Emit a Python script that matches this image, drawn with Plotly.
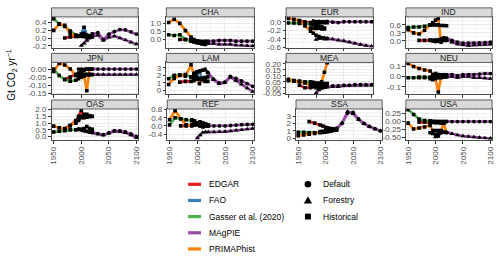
import plotly.graph_objects as go

# ------------------------------------------------------------------ data
HIST_YEARS = [1950, 1960, 1970, 1980, 1990, 1995, 2000, 2005, 2010, 2015, 2020]
EDGAR_YEARS = [1970, 1980, 1990, 1995, 2000, 2005, 2010, 2015]
FAO_YEARS = [1990, 1995, 2000, 2005, 2010, 2015]
MAGPIE_YEARS = [1995, 2000, 2005, 2010, 2015, 2020, 2030, 2040, 2050, 2060, 2070, 2080, 2090, 2100]

REGIONS = ["CAZ", "CHA", "EUR", "IND", "JPN", "LAM", "MEA", "NEU", "OAS", "REF", "SSA", "USA"]
SOURCES = ["EDGAR", "FAO", "Gasser et al. (2020)", "MAgPIE", "PRIMAPhist"]
SCENARIOS = ["Default", "Forestry", "Historical"]

CAZ_EDGAR = [0.00, 0.03, 0.04, 0.05, 0.05, 0.04, 0.03, 0.03]
CAZ_FAO = [0.05, 0.05, 0.10, 0.28, 0.08, 0.05]
CAZ_GASSER = [0.50, 0.37, 0.30, 0.18, 0.08, 0.06, 0.05, 0.05, 0.04, 0.04, 0.03]
CAZ_PRIMAP = [0.20, 0.36, 0.33, 0.12, 0.05, 0.04, 0.06, 0.12, 0.02, 0.05, 0.10]
CAZ_DEFAULT = [0.05, 0.07, 0.04, 0.00, 0.05, 0.10, 0.14, -0.04, 0.10, 0.17, 0.22, 0.21, 0.16, 0.10]
CAZ_FORESTRY = [None, -0.20, -0.14, -0.06, 0.00, 0.05, 0.07, -0.06, 0.02, 0.05, 0.00, -0.05, -0.11, -0.16]

CHA_EDGAR = [0.00, 0.00, 0.00, -0.05, -0.10, -0.12, -0.15, -0.15]
CHA_FAO = [-0.05, -0.10, -0.15, -0.20, -0.25, -0.30]
CHA_GASSER = [0.30, 0.25, 0.30, 0.00, -0.10, -0.15, -0.20, -0.20, -0.22, -0.22, -0.22]
CHA_PRIMAP = [1.05, 1.25, 1.00, 0.55, 0.15, 0.00, -0.10, -0.15, -0.20, -0.20, -0.15]
CHA_DEFAULT = [-0.05, -0.10, -0.10, -0.12, -0.10, -0.10, -0.10, -0.05, -0.05, -0.05, -0.10, -0.10, -0.10, -0.10]
CHA_FORESTRY = [None, -0.20, -0.25, -0.30, -0.30, -0.25, -0.25, -0.30, -0.30, -0.30, -0.35, -0.35, -0.38, -0.40]

EUR_EDGAR = [0.02, 0.00, -0.02, -0.05, -0.08, -0.10, -0.12, -0.15]
EUR_FAO = [-0.15, -0.15, -0.16, -0.15, -0.17, -0.17]
EUR_GASSER = [-0.03, -0.03, -0.04, -0.05, -0.05, -0.05, -0.03, -0.02, -0.02, -0.02, -0.02]
EUR_PRIMAP = [0.08, 0.06, 0.03, -0.10, -0.22, -0.27, -0.32, -0.35, -0.38, -0.40, -0.40]
EUR_DEFAULT = [0.02, 0.00, 0.01, 0.00, 0.00, 0.01, -0.01, -0.02, 0.00, 0.00, 0.00, 0.00, 0.00, 0.00]
EUR_FORESTRY = [None, -0.42, -0.40, -0.38, -0.38, -0.39, -0.41, -0.43, -0.45, -0.48, -0.51, -0.54, -0.56, -0.58]

IND_EDGAR = [0.02, 0.02, 0.03, 0.02, 0.02, 0.00, 0.00, 0.02]
IND_FAO = [0.02, 0.00, -0.02, 0.00, 0.05, 0.08]
IND_GASSER = [0.50, 0.52, 0.52, 0.55, 0.60, 0.60, 0.60, 0.60, 0.58, 0.58, 0.57]
IND_PRIMAP = [0.42, 0.30, 0.26, 0.40, 0.60, 0.68, 0.78, 0.84, -0.05, 0.03, 0.02]
IND_DEFAULT = [0.02, 0.03, 0.05, 0.08, 0.12, 0.10, 0.02, -0.05, -0.08, -0.08, -0.08, -0.07, -0.06, -0.05]
IND_FORESTRY = [None, 0.00, 0.02, 0.05, 0.08, 0.05, -0.05, -0.12, -0.15, -0.17, -0.16, -0.15, -0.14, -0.13]

JPN_EDGAR = [-0.065, -0.05, -0.035, -0.025, -0.015, -0.01, 0.00, 0.00]
JPN_FAO = [-0.035, -0.035, -0.035, -0.035, -0.035, -0.035]
JPN_GASSER = [0.00, -0.04, -0.065, -0.075, -0.07, -0.06, -0.05, -0.04, -0.035, -0.035, -0.035]
JPN_PRIMAP = [-0.015, 0.035, 0.025, 0.00, -0.04, -0.045, -0.045, -0.045, -0.135, 0.00, 0.00]
JPN_DEFAULT = [0.00, 0.00, -0.002, 0.00, 0.00, 0.00, 0.00, 0.00, 0.00, 0.00, 0.00, 0.00, 0.00, 0.00]
JPN_FORESTRY = [None, -0.035, -0.035, -0.035, -0.035, -0.035, -0.035, -0.035, -0.035, -0.035, -0.035, -0.035, -0.035, -0.035]

LAM_EDGAR = [1.10, 1.20, 1.20, 1.30, 1.50, 1.60, 1.40, 1.20]
LAM_FAO = [1.80, 2.00, 2.30, 2.50, 1.50, 1.40]
LAM_GASSER = [1.55, 2.00, 2.05, 2.10, 1.80, 1.70, 1.60, 1.50, 1.60, 1.70, 1.80]
LAM_PRIMAP = [0.80, 1.60, 2.00, 1.90, 3.40, 2.00, 1.80, 0.90, 1.50, 1.30, 1.20]
LAM_DEFAULT = [2.30, 2.50, 2.60, 2.70, 2.80, 2.40, 1.50, 1.00, 1.10, 1.85, 1.60, 1.25, 0.90, 0.55]
LAM_FORESTRY = [None, 2.40, 2.50, 2.60, 2.70, 2.30, 1.40, 0.90, 1.00, 1.75, 1.30, 0.80, 0.30, -0.15]

MEA_EDGAR = [0.02, 0.00, 0.00, 0.01, 0.01, 0.02, 0.02, 0.02]
MEA_FAO = [0.03, 0.03, 0.02, 0.03, 0.03, 0.02]
MEA_GASSER = [0.06, 0.055, 0.055, 0.05, 0.05, 0.045, 0.04, 0.04, 0.035, 0.035, 0.035]
MEA_PRIMAP = [0.07, 0.06, 0.05, 0.04, 0.02, 0.01, 0.00, 0.00, 0.05, 0.13, 0.21]
MEA_DEFAULT = [0.01, 0.00, 0.00, 0.00, 0.005, 0.01, 0.015, 0.015, 0.02, 0.02, 0.025, 0.025, 0.025, 0.025]
MEA_FORESTRY = [None, -0.045, -0.02, -0.005, 0.00, 0.005, 0.01, 0.01, 0.015, 0.02, 0.02, 0.02, 0.02, 0.02]

NEU_EDGAR = [-0.005, -0.005, -0.005, -0.01, -0.01, -0.01, 0.00, 0.00]
NEU_FAO = [-0.02, -0.03, 0.03, 0.02, -0.01, 0.00]
NEU_GASSER = [-0.01, -0.01, -0.01, -0.01, -0.01, -0.01, -0.005, 0.00, 0.00, 0.00, 0.00]
NEU_PRIMAP = [0.13, 0.10, 0.08, 0.065, 0.055, 0.02, -0.02, -0.15, 0.00, 0.01, 0.00]
NEU_DEFAULT = [0.00, 0.01, 0.01, 0.02, 0.02, 0.02, 0.02, 0.01, 0.02, 0.02, 0.02, 0.025, 0.03, 0.03]
NEU_FORESTRY = [None, -0.01, 0.00, 0.00, 0.00, 0.00, 0.00, -0.01, 0.00, 0.00, -0.01, -0.01, -0.015, -0.02]

OAS_EDGAR = [0.60, 0.85, 1.20, 1.50, 1.95, 1.50, 1.45, 1.50]
OAS_FAO = [1.00, 1.20, 1.40, 1.65, 1.50, 1.50]
OAS_GASSER = [0.35, 0.40, 0.45, 0.50, 0.50, 0.55, 0.55, 0.60, 0.75, 0.60, 0.55]
OAS_PRIMAP = [0.78, 0.65, 0.55, 0.80, 1.10, 1.30, 1.50, 1.40, 1.65, 1.55, 1.50]
OAS_DEFAULT = [0.55, 0.50, 0.45, 0.40, 0.35, 0.30, 0.22, 0.15, 0.28, 0.45, 0.42, 0.35, 0.20, 0.02]
OAS_FORESTRY = [None, 0.48, 0.42, 0.38, 0.32, 0.28, 0.20, 0.12, 0.25, 0.40, 0.38, 0.28, 0.12, -0.08]

REF_EDGAR = [0.00, 0.00, 0.05, 0.10, 0.15, 0.20, 0.15, 0.10]
REF_FAO = [0.30, 0.25, 0.15, 0.10, 0.05, 0.05]
REF_GASSER = [0.05, 0.40, 0.35, 0.30, 0.25, 0.15, 0.10, 0.05, 0.05, 0.05, 0.05]
REF_PRIMAP = [0.30, 0.75, 0.35, 0.05, 0.00, 0.05, 0.10, 0.00, -0.05, 0.00, 0.00]
REF_DEFAULT = [0.05, 0.05, 0.00, 0.00, 0.00, 0.00, 0.00, 0.00, 0.00, 0.02, 0.04, 0.06, 0.07, 0.08]
REF_FORESTRY = [None, -0.60, -0.45, -0.32, -0.30, -0.30, -0.30, -0.29, -0.28, -0.25, -0.22, -0.19, -0.16, -0.13]

SSA_EDGAR = [2.25, 2.05, 1.80, 1.65, 1.50, 1.40, 1.30, 1.25]
SSA_FAO = [0.90, 0.95, 1.00, 1.05, 1.10, 1.15]
SSA_GASSER = [0.80, 0.80, 0.75, 0.75, 0.80, 0.85, 0.90, 0.95, 1.00, 1.05, 1.10]
SSA_PRIMAP = [0.35, 0.45, 0.55, 0.65, 0.75, 0.85, 0.95, 1.00, 1.10, 1.20, 1.30]
SSA_DEFAULT = [0.80, 0.85, 0.90, 1.00, 1.10, 1.30, 2.00, 3.40, 3.50, 2.60, 2.00, 1.60, 1.30, 1.00]
SSA_FORESTRY = [None, 0.85, 0.90, 1.00, 1.10, 1.30, 2.10, 3.60, 3.30, 2.50, 1.95, 1.55, 1.25, 1.00]

USA_EDGAR = [-0.02, -0.02, -0.03, -0.03, -0.04, -0.04, -0.05, -0.05]
USA_FAO = [-0.35, -0.37, -0.40, -0.45, -0.35, -0.33]
USA_GASSER = [0.37, 0.22, 0.08, 0.03, 0.02, 0.01, 0.00, 0.00, 0.00, 0.00, 0.00]
USA_PRIMAP = [-0.05, -0.23, -0.20, -0.17, -0.12, -0.28, -0.28, -0.28, -0.28, -0.05, -0.35]
USA_DEFAULT = [0.00, 0.00, 0.00, 0.00, 0.00, 0.00, 0.00, 0.00, 0.00, 0.00, 0.00, 0.00, 0.00, 0.00]
USA_FORESTRY = [None, -0.48, -0.38, -0.34, -0.32, -0.33, -0.38, -0.42, -0.45, -0.47, -0.48, -0.50, -0.51, -0.52]

Y_TICKS = {
    "CAZ": [-0.2, 0.0, 0.2, 0.4], "CHA": [0.0, 0.5, 1.0], "EUR": [-0.6, -0.4, -0.2, 0.0],
    "IND": [0.0, 0.3, 0.6], "JPN": [-0.15, -0.10, -0.05, 0.00], "LAM": [0, 1, 2, 3],
    "MEA": [-0.05, 0.00, 0.05, 0.10, 0.15, 0.20], "NEU": [-0.1, 0.0, 0.1],
    "OAS": [0.0, 0.5, 1.0, 1.5, 2.0], "REF": [-0.4, 0.0, 0.4, 0.8], "SSA": [0, 1, 2, 3],
    "USA": [-0.50, -0.25, 0.00, 0.25],
}
X_TICKS = [1950, 2000, 2050, 2100]

# ------------------------------------------------------------------ styling
COLORS = ["#E41A1C", "#377EB8", "#4DAF4A", "#984EA3", "#FF7F00"]
SYMBOLS = {"Default": "circle", "Forestry": "triangle-up", "Historical": "square"}
MSIZE = {"Default": 3.8, "Forestry": 4.6, "Historical": 3.6}
DECIMALS = {"CAZ": 1, "CHA": 1, "EUR": 1, "IND": 1, "JPN": 2, "LAM": 0, "MEA": 2,
            "NEU": 1, "OAS": 1, "REF": 1, "SSA": 0, "USA": 2}
Y_RANGE = {"CAZ": [-0.25, 0.55], "CHA": [-0.5, 1.4], "EUR": [-0.61, 0.115],
           "IND": [-0.25, 0.9], "JPN": [-0.158, 0.041], "LAM": [-0.52, 3.7],
           "MEA": [-0.057, 0.213], "NEU": [-0.174, 0.139], "OAS": [-0.26, 2.05],
           "REF": [-0.70, 0.83], "SSA": [-0.25, 3.95], "USA": [-0.58, 0.39]}
X_RANGE = [1946, 2103]

ROW_Y = [(13.3, 45.0), (60.3, 93.3), (108.3, 140.5)]
STRIP_H = 9.3
COL_X = [[(50, 137.5), (166, 255), (287, 375), (408, 495)],
         [(50, 137.5), (166, 255), (287, 375), (408, 495)],
         [(50, 137.5), (167, 255), (297, 384), (408, 495)]]

W, H = 500, 261
FONT = "Liberation Sans, Arial, Helvetica, sans-serif"


def px(x):
    return x / W


def py(y):
    return 1 - y / H


g = globals()
DATA = {}
for reg in REGIONS:
    DATA[reg] = [
        (0, "Historical", EDGAR_YEARS, g[reg + "_EDGAR"]),
        (1, "Historical", FAO_YEARS, g[reg + "_FAO"]),
        (2, "Historical", HIST_YEARS, g[reg + "_GASSER"]),
        (3, "Default", MAGPIE_YEARS, g[reg + "_DEFAULT"]),
        (3, "Forestry", MAGPIE_YEARS, g[reg + "_FORESTRY"]),
        (4, "Historical", HIST_YEARS, g[reg + "_PRIMAP"]),
    ]


def fmt(v, d):
    return f"{v:.{d}f}"


fig = go.Figure()
layout = {}
shapes = []
annotations = []

for i, reg in enumerate(REGIONS):
    r, c = divmod(i, 4)
    x0, x1 = COL_X[r][c]
    y0, y1 = ROW_Y[r]
    xa = "x" if i == 0 else f"x{i+1}"
    ya = "y" if i == 0 else f"y{i+1}"
    xkey = "xaxis" if i == 0 else f"xaxis{i+1}"
    ykey = "yaxis" if i == 0 else f"yaxis{i+1}"

    for ci, scen, yrs, vals in DATA[reg]:
        fig.add_trace(go.Scatter(x=yrs, y=vals, mode="lines", xaxis=xa, yaxis=ya,
                                 line=dict(color=COLORS[ci], width=2.6),
                                 showlegend=False, hoverinfo="skip"))
    for ci, scen, yrs, vals in DATA[reg]:
        fig.add_trace(go.Scatter(x=yrs, y=vals, mode="markers", xaxis=xa, yaxis=ya,
                                 marker=dict(color="black", size=MSIZE[scen],
                                             symbol=SYMBOLS[scen], line=dict(width=0)),
                                 showlegend=False, hoverinfo="skip"))

    ticks = Y_TICKS[reg]
    step = ticks[1] - ticks[0]
    minor = [t + step / 2 for t in [ticks[0] - step] + ticks]
    lo, hi = Y_RANGE[reg]
    minor = [m for m in minor if lo < m < hi]

    layout[xkey] = dict(
        domain=[px(x0), px(x1)], anchor=ya, range=X_RANGE,
        tickmode="array", tickvals=X_TICKS,
        ticktext=[str(t) for t in X_TICKS],
        showticklabels=(r == 2), tickangle=-90,
        tickfont=dict(size=8, color="#4D4D4D", family=FONT),
        ticks="outside", ticklen=2.5, tickwidth=0.7, tickcolor="#333333",
        showgrid=True, gridcolor="#EBEBEB", gridwidth=0.9,
        minor=dict(tickmode="array", tickvals=[1975, 2025, 2075], showgrid=True,
                   gridcolor="#F2F2F2", gridwidth=0.5, ticks=""),
        zeroline=False, showline=True, mirror=True, linecolor="#4D4D4D", linewidth=0.9,
        fixedrange=True,
    )
    layout[ykey] = dict(
        domain=[py(y1), py(y0)], anchor=xa, range=Y_RANGE[reg],
        tickmode="array", tickvals=ticks,
        ticktext=[fmt(t, DECIMALS[reg]) for t in ticks],
        tickfont=dict(size=8, color="#4D4D4D", family=FONT),
        ticks="outside", ticklen=2.5, tickwidth=0.7, tickcolor="#333333",
        showgrid=True, gridcolor="#EBEBEB", gridwidth=0.9,
        minor=dict(tickmode="array", tickvals=minor, showgrid=True,
                   gridcolor="#F2F2F2", gridwidth=0.5, ticks=""),
        zeroline=False, showline=True, mirror=True, linecolor="#4D4D4D", linewidth=0.9,
        fixedrange=True,
    )
    # strip
    shapes.append(dict(type="rect", xref="paper", yref="paper",
                       x0=px(x0), x1=px(x1), y0=py(y0), y1=py(y0 - STRIP_H),
                       fillcolor="#D9D9D9", line=dict(color="#4D4D4D", width=0.9)))
    annotations.append(dict(xref="paper", yref="paper", x=px((x0 + x1) / 2),
                            y=py(y0 - STRIP_H / 2), text=reg, showarrow=False,
                            xanchor="center", yanchor="middle",
                            font=dict(size=8.5, color="#1A1A1A", family=FONT)))

# y-axis title
annotations.append(dict(xref="paper", yref="paper", x=px(10), y=py(73),
                        text="Gt CO<sub>2</sub> yr<sup>−1</sup>", showarrow=False,
                        textangle=-90, xanchor="center", yanchor="middle",
                        font=dict(size=10, color="black", family=FONT)))

# legend: sources
LEG_ROWS = [186, 202.7, 219.3, 236, 252.7]
for k, name in enumerate(SOURCES):
    yy = LEG_ROWS[k]
    shapes.append(dict(type="line", xref="paper", yref="paper",
                       x0=px(188), x1=px(201), y0=py(yy), y1=py(yy),
                       line=dict(color=COLORS[k], width=3.2)))
    annotations.append(dict(xref="paper", yref="paper", x=px(207.5), y=py(yy),
                            text=name, showarrow=False, xanchor="left", yanchor="middle",
                            font=dict(size=8.5, color="black", family=FONT)))

# legend: scenarios
MX = 309
for k, name in enumerate(SCENARIOS):
    yy = LEG_ROWS[k]
    if name == "Default":
        rr = 3.4
        shapes.append(dict(type="circle", xref="paper", yref="paper",
                           x0=px(MX - rr), x1=px(MX + rr), y0=py(yy + rr), y1=py(yy - rr),
                           fillcolor="black", line=dict(width=0)))
    elif name == "Forestry":
        path = (f"M {px(MX)},{py(yy - 4.2)} L {px(MX - 4.2)},{py(yy + 3)} "
                f"L {px(MX + 4.2)},{py(yy + 3)} Z")
        shapes.append(dict(type="path", xref="paper", yref="paper", path=path,
                           fillcolor="black", line=dict(width=0)))
    else:
        s = 3.0
        shapes.append(dict(type="rect", xref="paper", yref="paper",
                           x0=px(MX - s), x1=px(MX + s), y0=py(yy + s), y1=py(yy - s),
                           fillcolor="black", line=dict(width=0)))
    annotations.append(dict(xref="paper", yref="paper", x=px(322.5), y=py(yy),
                            text=name, showarrow=False, xanchor="left", yanchor="middle",
                            font=dict(size=8.5, color="black", family=FONT)))

fig.update_layout(
    width=W, height=H, margin=dict(l=0, r=0, t=0, b=0),
    paper_bgcolor="white", plot_bgcolor="white",
    showlegend=False, shapes=shapes, annotations=annotations,
    font=dict(family=FONT), **layout,
)
fig.write_html("out.html", config={"displayModeBar": False},
               post_script="document.body.style.margin='0';document.body.style.overflow='hidden';")
